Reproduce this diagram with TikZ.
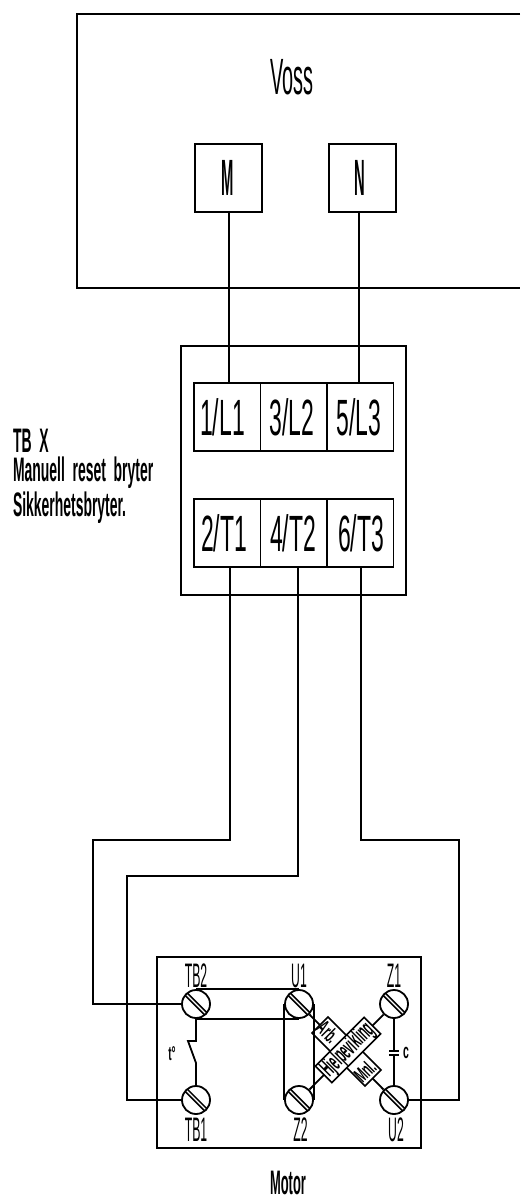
\documentclass[tikz,border=0pt]{standalone}
\usepackage{graphicx}
\usepackage{fontspec}
\setmainfont{Liberation Sans}
\newcommand{\nt}[3]{{\fontsize{#1}{#1}\selectfont\scalebox{#2}[1]{#3}}}
\tikzset{
  wire/.style={draw=black,line width=1.8pt,line join=miter},
  box/.style={draw=black,line width=1.8pt},
  term/.style={box,minimum width=66.5pt,minimum height=68pt,inner sep=0pt,anchor=north west},
  vbox/.style={box,minimum width=67pt,minimum height=68pt,inner sep=0pt,anchor=north west},
  screw/.style={circle,draw=black,line width=1.8pt,minimum size=28pt,inner sep=0pt,fill=white},
  plain/.style={inner sep=0pt,outer sep=0pt,text=black},
  winding/.style={draw=black,line width=1.6pt,fill=white,inner sep=0pt,rotate=#1}
}
\begin{document}
\begin{tikzpicture}[x=1pt,y=-1pt]
\useasboundingbox (0,0) rectangle (520,1198);
% Voss enclosure
\draw[box] (520,14) -- (77,14) -- (77,288) -- (520,288);
\node[plain] (voss) at (292,77) {\nt{51}{0.39}{Voss}};
\node[vbox] (M) at (194,143) {};
\node[vbox] (N) at (328,143) {};
\node[plain] (Mt) at (227.5,178) {\nt{51}{0.29}{\textbf{M}}};
\node[plain] (Nt) at (360,178) {\nt{51}{0.29}{\textbf{N}}};
% Switch
\node[box,minimum width=225pt,minimum height=249pt,inner sep=0pt,anchor=north west] (sw) at (180,345) {};
\node[term] (L1) at (193,382) {};
\node[term] (L2) at (259.5,382) {};
\node[term] (L3) at (326,382) {};
\node[term] (T1) at (193,498) {};
\node[term] (T2) at (259.5,498) {};
\node[term] (T3) at (326,498) {};
\node[plain] (L1t) at (222.5,417) {\nt{51}{0.45}{1/L1}};
\node[plain] (L2t) at (292,417) {\nt{51}{0.45}{3/L2}};
\node[plain] (L3t) at (359,417) {\nt{51}{0.45}{5/L3}};
\node[plain] (T1t) at (224,533) {\nt{51}{0.45}{2/T1}};
\node[plain] (T2t) at (293,533) {\nt{51}{0.45}{4/T2}};
\node[plain] (T3t) at (361,533) {\nt{51}{0.45}{6/T3}};
\node[plain,anchor=west] (tbx) at (13,441) {\nt{34}{0.41}{\textbf{TB\ \ X}}};
\node[plain,anchor=west] (man) at (13,473) {\nt{34}{0.41}{\textbf{Manuell\ \ reset\ \ bryter}}};
\node[plain,anchor=west] (sik) at (13,508) {\nt{34}{0.41}{\textbf{Sikkerhetsbryter.}}};
% Motor
\node[box,minimum width=264pt,minimum height=191pt,inner sep=0pt,anchor=north west] (mot) at (156,956) {};
\node[plain] (mlabel) at (288,1183) {\nt{34}{0.38}{\textbf{Motor}}};
% Screws
\node[screw] (TB2) at (196,1004) {};
\node[screw] (U1) at (299,1004) {};
\node[screw] (Z1) at (394,1004) {};
\node[screw] (TB1) at (196,1100) {};
\node[screw] (Z2) at (299,1100) {};
\node[screw] (U2) at (394,1100) {};
\foreach \n in {TB2,U1,Z1,TB1,Z2,U2}{
  \draw[line width=1.5pt] ([shift={(-10.9,-8.7)}]\n.center) -- ([shift={(8.7,10.9)}]\n.center);
  \draw[line width=1.5pt] ([shift={(-8.7,-10.9)}]\n.center) -- ([shift={(10.9,8.7)}]\n.center);
}
\node[plain] (TB2t) at (196,976) {\nt{34}{0.36}{TB2}};
\node[plain] (U1t) at (299,976) {\nt{34}{0.36}{U1}};
\node[plain] (Z1t) at (394,976) {\nt{34}{0.36}{Z1}};
\node[plain] (TB1t) at (196,1130) {\nt{34}{0.36}{TB1}};
\node[plain] (Z2t) at (300.5,1130) {\nt{34}{0.36}{Z2}};
\node[plain] (U2t) at (396,1130) {\nt{34}{0.36}{U2}};
% Windings
\draw[wire] (U1.south east) -- (U2.north west);
\draw[wire] (Z1.south west) -- (Z2.north east);
\node[winding=-45,minimum width=32pt,minimum height=22.5pt] (arb) at (331.3,1036.3) {};
\node[winding=-45,minimum width=32pt,minimum height=22.5pt] (hov) at (361.7,1066.7) {};
\node[plain,rotate=-45] (arbt) at (328,1032) {\nt{21}{0.5}{\textbf{Arb.}}};
\node[plain,rotate=45] (hovt) at (365,1071) {\nt{21}{0.5}{\textbf{Mnl.}}};
\node[winding=45,minimum width=69pt,minimum height=20.5pt] (hj) at (348,1050) {\nt{25}{0.42}{\textbf{Hjelpevikling}}};
% Links
\draw[wire] (TB2.north) -- (U1.north);
\draw[wire] (TB2.south) -- (U1.south);
\draw[wire] (U1.west) -- (Z2.west);
\draw[wire] (U1.east) -- (Z2.east);
% Thermal switch
\coordinate (sa) at (196,1041);
\coordinate (sb) at (188,1041);
\coordinate (sc) at (196,1063);
\draw[wire] (TB2.south) -- (sa) -- (sb) -- (sc) -- (TB1.north);
\node[plain] (t) at (172,1054) {\nt{20}{0.5}{\textbf{t°}}};
% Capacitor
\coordinate (ca) at (394,1051);
\coordinate (cb) at (394,1055);
\draw[wire] (Z1.south) -- (ca);
\draw[wire] (cb) -- (U2.north);
\coordinate (p1l) at (389,1051);
\coordinate (p1r) at (399,1051);
\coordinate (p2l) at (389,1055);
\coordinate (p2r) at (399,1055);
\draw[wire] (p1l) -- (p1r);
\draw[wire] (p2l) -- (p2r);
\node[plain] (c) at (406,1053) {\nt{21}{0.5}{\textbf{c}}};
% Feeds
\coordinate (Mo) at (229,211);
\coordinate (No) at (359,211);
\coordinate (Li) at (229,382);
\coordinate (Ni) at (359,382);
\draw[wire] (Mo) -- (Li);
\draw[wire] (No) -- (Ni);
\coordinate (w0) at (230,566);
\coordinate (w1) at (298,566);
\coordinate (w2) at (361,566);
\coordinate (w1a) at (93,840);
\coordinate (w1b) at (93,1004);
\coordinate (w2a) at (127,876);
\coordinate (w2b) at (127,1100);
\coordinate (w3a) at (459,840);
\coordinate (w3b) at (459,1100);
\draw[wire] (w0) |- (w1a) -- (w1b) -- (TB2.west);
\draw[wire] (w1) |- (w2a) -- (w2b) -- (TB1.west);
\draw[wire] (w2) |- (w3a) -- (w3b) -- (U2.east);
\end{tikzpicture}
\end{document}
